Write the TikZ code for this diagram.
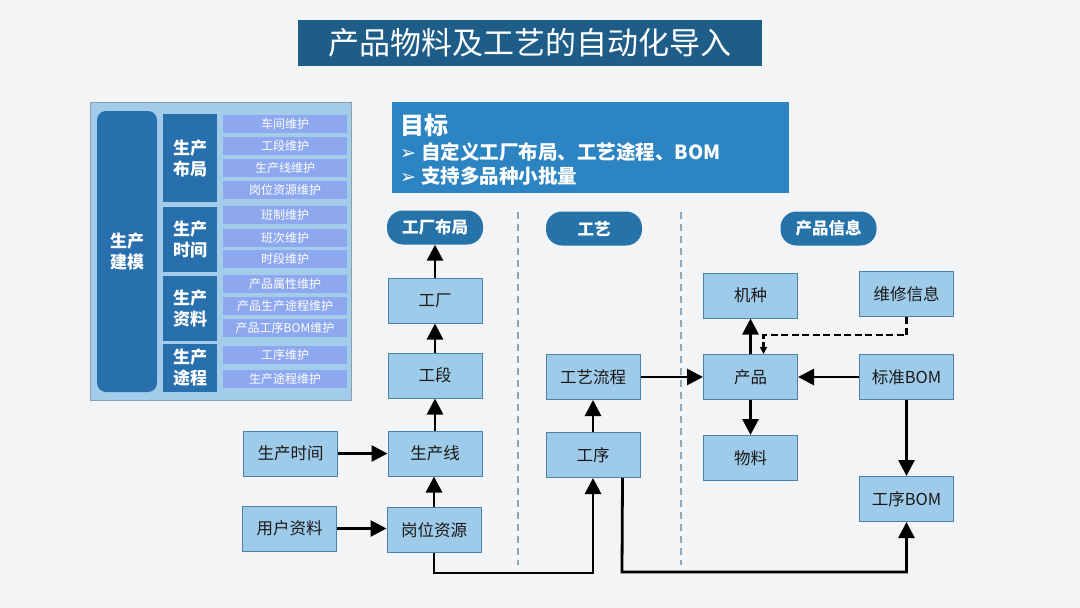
\documentclass[tikz,border=0pt]{standalone}
\usepackage{fontspec}
\setmainfont{Noto Sans CJK SC}
\newfontfamily\dejavu{DejaVu Sans}
\usetikzlibrary{arrows.meta}
\definecolor{bgc}{HTML}{F3F4F5}
\definecolor{titlec}{HTML}{1E5D88}
\definecolor{goalc}{HTML}{2C84C2}
\definecolor{panelc}{HTML}{A2CCEA}
\definecolor{panelb}{HTML}{8E9EAA}
\definecolor{darkc}{HTML}{2770AD}
\definecolor{itemc}{HTML}{8EA8EF}
\definecolor{boxc}{HTML}{9FCBEA}
\definecolor{boxb}{HTML}{4F81A8}
\definecolor{pillc}{HTML}{2673AA}
\definecolor{sepc}{HTML}{8FA7B8}
\tikzset{
  fbox/.style={draw=boxb, line width=1pt, fill=boxc, minimum width=94pt, minimum height=45pt, inner sep=0pt, font=\fontsize{16.5}{19}\selectfont, text=black!90},
  pill/.style={fill=pillc, rounded corners=16pt, minimum width=96pt, minimum height=34pt, inner sep=0pt, text=white, font=\fontsize{16.5}{19}\selectfont\bfseries},
  catbox/.style={fill=darkc, inner sep=0pt, text=white, align=center, font=\fontsize{17}{21}\selectfont\bfseries},
  itembox/.style={fill=itemc, minimum width=124pt, minimum height=18pt, inner sep=0pt, text=white, font=\fontsize{12}{14}\selectfont},
  arr/.style={line width=2.8pt, -{Triangle[length=16pt,width=16pt]}},
  darr/.style={line width=2.2pt, dashed, dash pattern=on 7pt off 3.5pt, -{Triangle[length=7pt,width=7pt]}},
  sep/.style={draw=sepc, line width=1.2pt, dash pattern=on 7pt off 5pt}
}
\begin{document}
\begin{tikzpicture}[x=1pt,y=-1pt]
\useasboundingbox (0,0) rectangle (1080,608);
\fill[bgc] (0,0) rectangle (1080,608);

% title
\node[fill=titlec, minimum width=464pt, minimum height=46pt, inner sep=0pt, text=white, font=\fontsize{31}{35}\selectfont] (title) at (530,43) {产品物料及工艺的自动化导入};

% left panel
\node[draw=panelb, line width=1pt, fill=panelc, minimum width=261pt, minimum height=298pt, inner sep=0pt] (panel) at (220.5,251) {};
\node[fill=darkc, rounded corners=9pt, minimum width=60pt, minimum height=281pt, inner sep=0pt, text=white, align=center, font=\fontsize{17}{21}\selectfont\bfseries] (scjm) at (127,251.5) {生产\\建模};
\node[catbox, minimum width=54pt, minimum height=88pt] (c1) at (190,158) {生产\\布局};
\node[catbox, minimum width=54pt, minimum height=65pt] (c2) at (190,239.5) {生产\\时间};
\node[catbox, minimum width=54pt, minimum height=65pt] (c3) at (190,308.5) {生产\\资料};
\node[catbox, minimum width=54pt, minimum height=48pt] (c4) at (190,368) {生产\\途程};

\node[itembox] (i1) at (285,123.5) {车间维护};
\node[itembox] (i2) at (285,145.5) {工段维护};
\node[itembox] (i3) at (285,167.5) {生产线维护};
\node[itembox] (i4) at (285,189.5) {岗位资源维护};
\node[itembox] (i5) at (285,215) {班制维护};
\node[itembox] (i6) at (285,237.5) {班次维护};
\node[itembox] (i7) at (285,259) {时段维护};
\node[itembox] (i8) at (285,284) {产品属性维护};
\node[itembox] (i9) at (285,306) {产品生产途程维护};
\node[itembox] (i10) at (285,328) {产品工序BOM维护};
\node[itembox] (i11) at (285,355) {工序维护};
\node[itembox] (i12) at (285,379) {生产途程维护};

% goal box
\node[fill=goalc, minimum width=397pt, minimum height=91pt, inner sep=0pt] (goal) at (590.5,147.5) {};
\node[anchor=west, inner sep=0pt, text=white, font=\fontsize{24}{26}\selectfont\bfseries] (goalt) at (400,125) {目标};
\node[anchor=west, inner sep=0pt, text=white, font=\fontsize{19.5}{22}\selectfont\bfseries] (g1) at (400,152) {{\dejavu\fontsize{19}{22}\selectfont ➢}\hspace{5pt}自定义工厂布局、工艺途程、BOM};
\node[anchor=west, inner sep=0pt, text=white, font=\fontsize{19.5}{22}\selectfont\bfseries] (g2) at (400,176.5) {{\dejavu\fontsize{19}{22}\selectfont ➢}\hspace{5pt}支持多品种小批量};

% separators
\coordinate (s1a) at (518,212);
\coordinate (s1b) at (518,565);
\coordinate (s2a) at (681,212);
\coordinate (s2b) at (681,565);
\draw[sep] (s1a) -- (s1b);
\draw[sep] (s2a) -- (s2b);

% pills
\node[pill] (p1) at (435,227.5) {工厂布局};
\node[pill] (p2) at (594,228.5) {工艺};
\node[pill] (p3) at (828.5,228.5) {产品信息};

% boxes
\node[fbox] (gc) at (435,300.5) {工厂};
\node[fbox] (gd) at (435,375.5) {工段};
\node[fbox] (scx) at (435,453.5) {生产线};
\node[fbox] (gwzy) at (434,530) {岗位资源};
\node[fbox] (scsj) at (290.5,453.5) {生产时间};
\node[fbox] (yhzl) at (289.5,528.5) {用户资料};
\node[fbox] (gylc) at (593,377) {工艺流程};
\node[fbox] (gx) at (593,455) {工序};
\node[fbox] (jz) at (750.5,295.5) {机种};
\node[fbox] (wxxx) at (906.5,294) {维修信息};
\node[fbox] (cp) at (750.5,377) {产品};
\node[fbox] (bzbom) at (906.5,377) {标准BOM};
\node[fbox] (wl) at (750.5,458) {物料};
\node[fbox] (gxbom) at (906.5,499) {工序BOM};

% arrows
\draw[arr] (gc.north) -- (p1.south);
\draw[arr] (gd.north) -- (gc.south);
\draw[arr] (scx.north) -- (gd.south);
\draw[arr] (gwzy.north) -- (gwzy.north |- scx.south);
\draw[arr] (scsj.east) -- (scx.west);
\draw[arr] (yhzl.east) -- (yhzl.east -| gwzy.west);
\coordinate (r1) at (434,573);
\draw[arr] (gwzy.south) -- (r1) -| (gx.south);
\draw[arr] (gx.north) -- (gylc.south);
\coordinate (r2) at (622,572);
\draw[arr] ([xshift=-18pt]gx.south east) -- (r2) -| (gxbom.south);
\draw[arr] (gylc.east) -- (cp.west);
\draw[arr] (bzbom.west) -- (cp.east);
\draw[arr] (cp.north) -- (jz.south);
\draw[arr] (cp.south) -- (wl.north);
\draw[arr] (bzbom.south) -- (gxbom.north);
\coordinate (r3) at (906.5,335);
\draw[darr] (wxxx.south) -- (r3) -| ([xshift=13pt]cp.north);
\end{tikzpicture}
\end{document}
